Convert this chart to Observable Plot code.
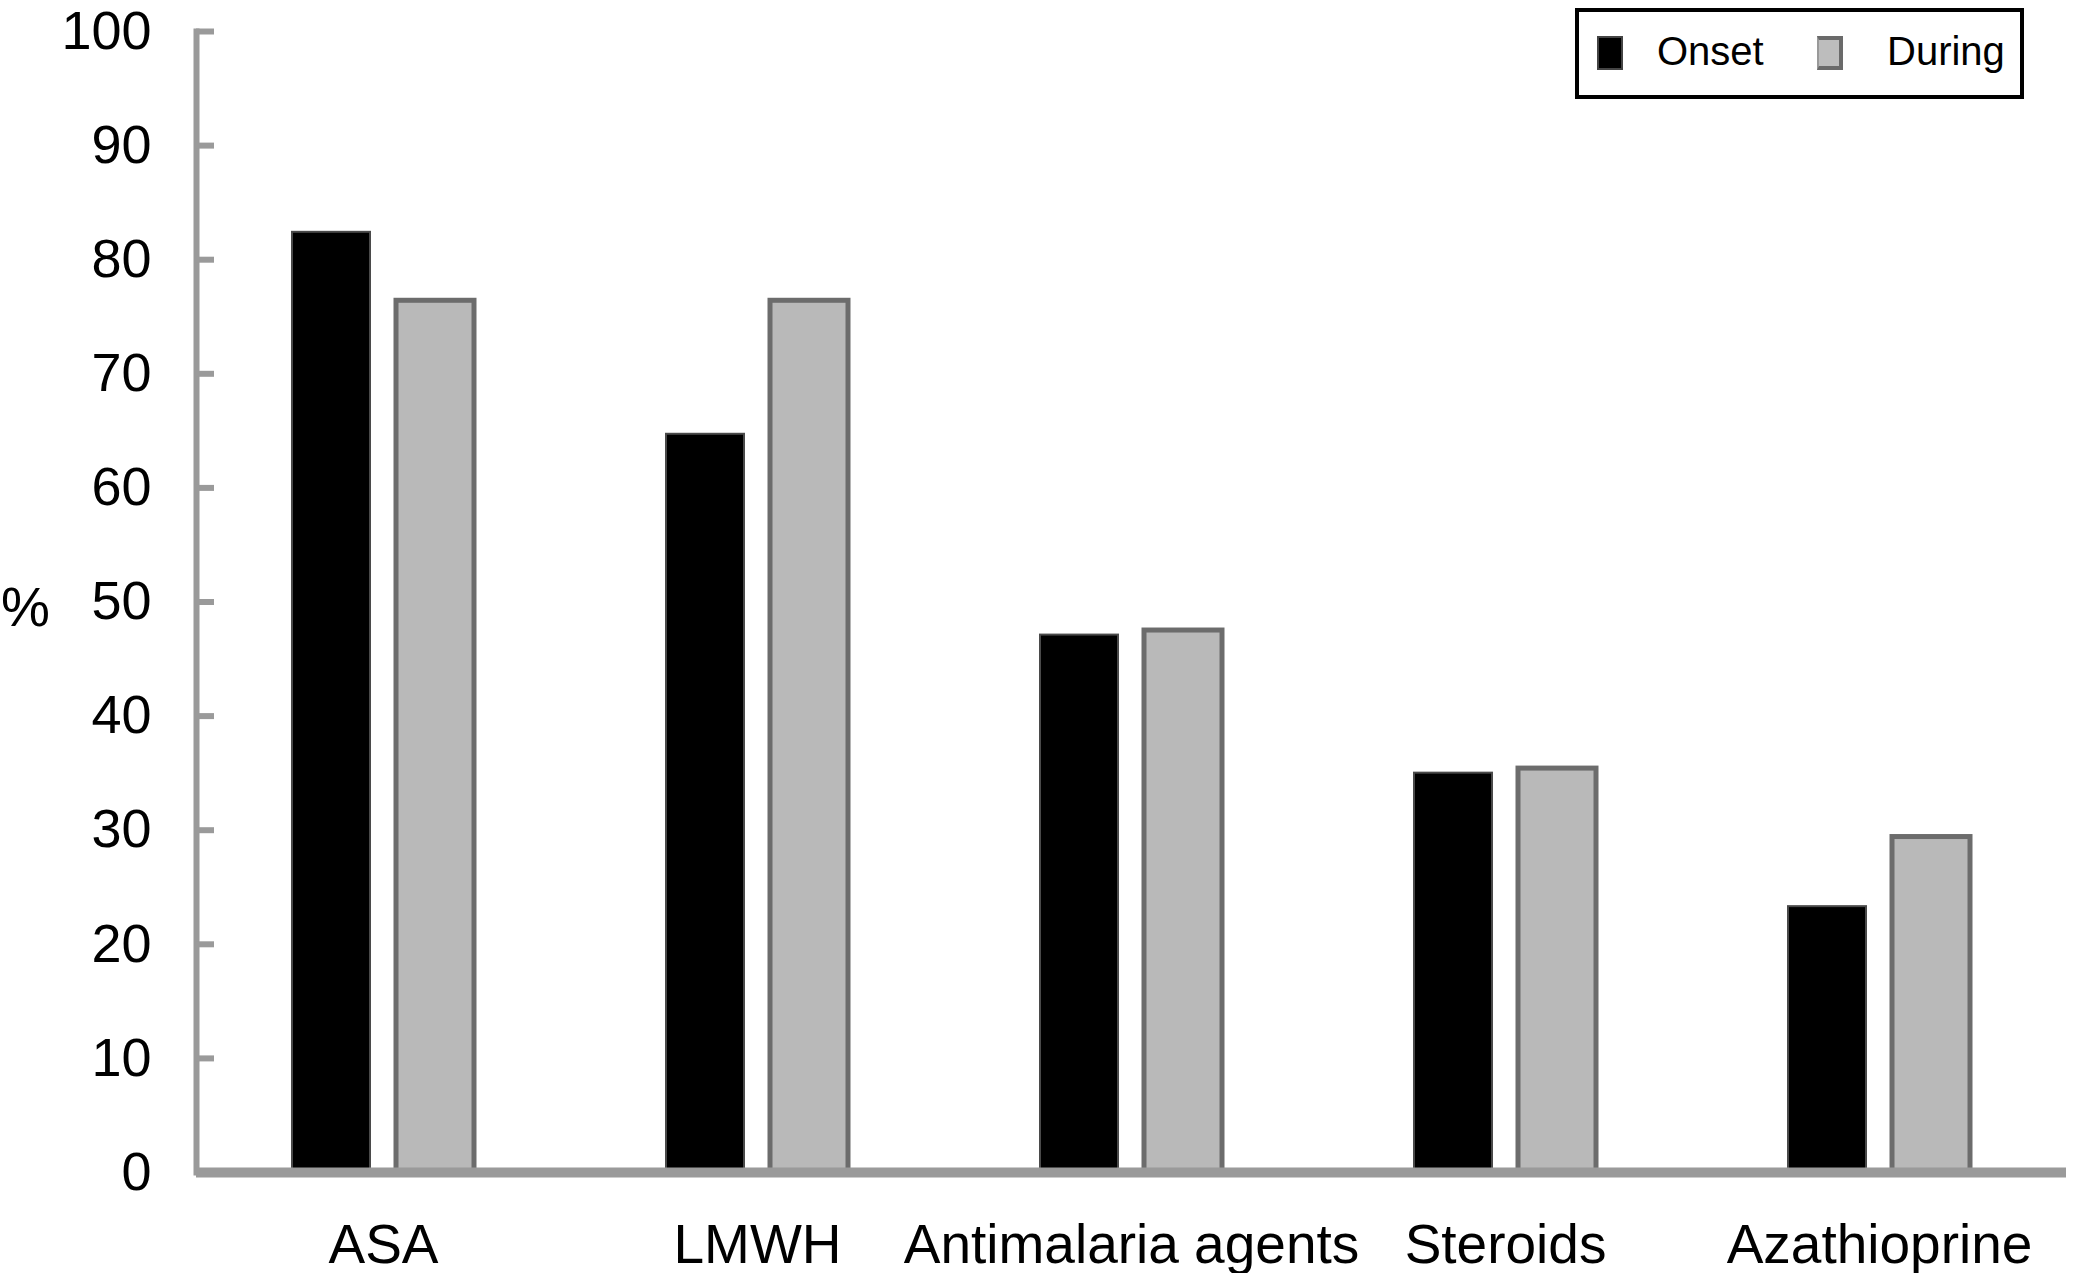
<!DOCTYPE html>
<html>
<head>
<meta charset="utf-8">
<script src="https://cdn.jsdelivr.net/npm/d3@7"></script>
<script src="https://cdn.jsdelivr.net/npm/@observablehq/plot@0.6"></script>
<style>
  html, body { margin: 0; padding: 0; background: #fff; }
  #wrap { position: relative; width: 2078px; height: 1273px; font-family: "Liberation Sans", Arial, Helvetica, sans-serif; }
  #legend { position: absolute; left: 1575px; top: 8px; width: 441px; height: 83px; border: 4px solid #000; background: #fff; }
  .sw { position: absolute; top: 24px; width: 26px; height: 34px; box-sizing: border-box; }
  .lab { position: absolute; top: 15px; font-size: 40px; line-height: 48px; color: #000; }
</style>
</head>
<body>
<div id="wrap">
  <div id="chart"></div>
  <div id="legend">
    <div class="sw" style="left:18px; background:#000; border:2px solid #444;"></div>
    <div class="lab" style="left:78px;">Onset</div>
    <div class="sw" style="left:238px; background:#bdbdbd; border:4px solid #6a6a6a; border-left:2px solid #999;"></div>
    <div class="lab" style="left:308px;">During</div>
  </div>
</div>
<script>
const categories = ["ASA", "LMWH", "Antimalaria agents", "Steroids", "Azathioprine"];
const series = ["Onset", "During"];
const onsetValues = [82.4, 64.7, 47.1, 35.0, 23.3];
const duringValues = [76.4, 76.4, 47.5, 35.4, 29.4];
const yTicks = [0, 10, 20, 30, 40, 50, 60, 70, 80, 90, 100];
const yLabel = "%";

const table = categories.flatMap((c, i) => [
  {category: c, series: series[0], value: onsetValues[i]},
  {category: c, series: series[1], value: duringValues[i]}
]);

const chart = Plot.plot({
  width: 2078,
  height: 1273,
  marginLeft: 195,
  marginRight: 11,
  marginTop: 31,
  marginBottom: 101,
  style: {fontFamily: "'Liberation Sans', Arial, Helvetica, sans-serif", fontSize: "54px", color: "#000", background: "#fff", overflow: "visible"},
  fx: {domain: categories, padding: 0, axis: null},
  x: {domain: series, paddingInner: 0.21, paddingOuter: 0.89, axis: null},
  y: {domain: [0, 100], axis: null},
  color: {domain: series, range: ["#000000", "#b9b9b9"]},
  marks: [
    Plot.barY(table, {
      fx: "category", x: "series", y: "value", fill: "series",
      stroke: d => d.series === series[0] ? "#4a4a4a" : "#6c6c6c",
      strokeWidth: d => d.series === series[0] ? 2 : 5,
      insetLeft: 2, insetRight: 2
    }),
    Plot.ruleY([0], {stroke: "#9a9a9a", strokeWidth: 10}),
    Plot.frame({anchor: "left", facetAnchor: "left", stroke: "#9a9a9a", strokeWidth: 6}),
    Plot.axisY(yTicks, {
      anchor: "left", tickSize: -18, tickPadding: 63, stroke: "#9a9a9a", strokeWidth: 6,
      fill: "#000", fontSize: 54, label: null, tickFormat: d => String(d)
    }),
    Plot.axisFx({anchor: "bottom", tickSize: 0, tickPadding: 51, fontSize: 55, fill: "#000", label: null}),
    Plot.text([yLabel], {fx: () => categories[0], frameAnchor: "left", dx: -171, dy: 6, text: d => d, fontSize: 55, fill: "#000", textAnchor: "middle"})
  ]
});
document.getElementById("chart").appendChild(chart);
</script>
</body>
</html>
